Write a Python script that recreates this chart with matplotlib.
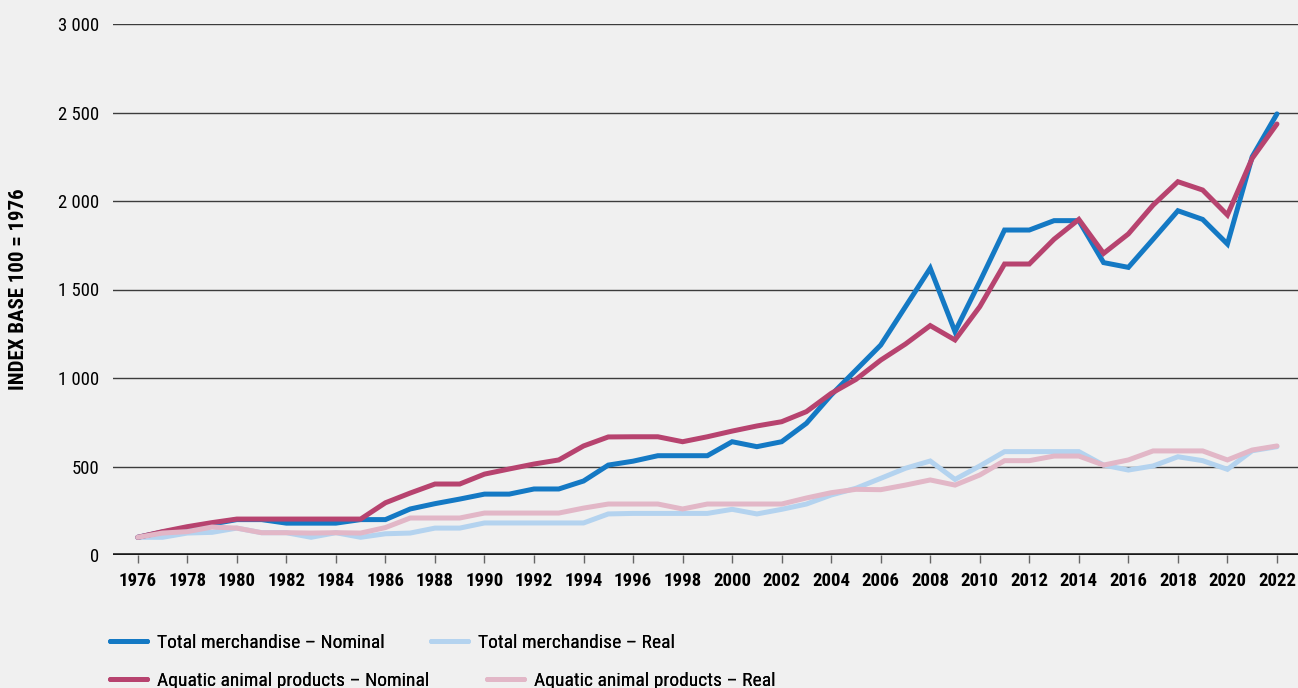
import matplotlib
matplotlib.use("Agg")
import matplotlib.pyplot as plt
from matplotlib.ticker import FuncFormatter, FixedLocator

years = list(range(1976, 2023))

total_nominal = [100, 130, 150, 175, 200, 200, 180, 180, 180, 200,
                 200, 260, 290, 316, 344, 344, 373, 373, 418, 508,
                 530, 561, 561, 561, 640, 612, 640, 744, 904, 1045,
                 1186, 1403, 1620, 1262, 1544, 1836, 1836, 1889, 1889, 1652,
                 1625, 1784, 1945, 1896, 1757, 2250, 2492]

total_real = [100, 100, 124, 128, 152, 126, 126, 100, 126, 100,
              120, 124, 152, 152, 181, 181, 181, 181, 181, 232,
              235, 235, 235, 235, 258, 232, 258, 288, 339, 377,
              433, 490, 531, 427, 503, 584, 584, 584, 584, 508,
              480, 503, 555, 533, 484, 589, 612]

aquatic_nominal = [100, 132, 160, 183, 203, 203, 203, 203, 203, 203,
                   295, 350, 401, 401, 457, 486, 514, 537, 616, 667,
                   668, 668, 640, 668, 700, 729, 753, 810, 913, 992,
                   1101, 1192, 1296, 1215, 1403, 1644, 1644, 1784, 1896, 1704,
                   1814, 1977, 2109, 2062, 1921, 2241, 2435]

aquatic_real = [100, 124, 132, 158, 152, 126, 126, 124, 126, 124,
                155, 209, 209, 209, 237, 237, 237, 237, 265, 288,
                288, 288, 260, 288, 288, 288, 288, 322, 352, 371,
                369, 395, 424, 395, 452, 533, 533, 559, 559, 508,
                537, 588, 588, 588, 537, 593, 616]

labels = ["Total merchandise \u2013 Nominal", "Total merchandise \u2013 Real",
          "Aquatic animal products \u2013 Nominal", "Aquatic animal products \u2013 Real"]
colors = ["#1479c4", "#b4d3ef", "#b7436f", "#e2b7c7"]

plt.rcParams["font.family"] = ["Roboto Condensed", "DejaVu Sans"]
plt.rcParams["font.stretch"] = "condensed"

bg = "#f0f0f0"
fig = plt.figure(figsize=(12.98, 6.88), dpi=100, facecolor=bg)
ax = fig.add_axes([113/1298, 1 - 555/688, 1 - 113/1298, (555 - 24)/688], facecolor=bg)

lw = 3.6
l_tr, = ax.plot(years, total_real, color=colors[1], lw=lw, solid_capstyle="round", solid_joinstyle="miter", zorder=3)
l_tn, = ax.plot(years, total_nominal, color=colors[0], lw=lw, solid_capstyle="round", solid_joinstyle="miter", zorder=4)
l_an, = ax.plot(years, aquatic_nominal, color=colors[2], lw=lw, solid_capstyle="round", solid_joinstyle="miter", zorder=5)
l_ar, = ax.plot(years, aquatic_real, color=colors[3], lw=lw, solid_capstyle="round", solid_joinstyle="miter", zorder=6)

ax.set_xlim(1975, 2022.85)
ax.set_ylim(0, 3000)

for v in range(500, 3001, 500):
    ax.axhline(v, color="#3c3c3c", lw=1.0, zorder=1)
ax.axhline(0, color="#1a1a1a", lw=2.6, zorder=2)

for s in ax.spines.values():
    s.set_visible(False)

ax.xaxis.set_major_locator(FixedLocator(list(range(1976, 2023, 2))))
ax.set_yticks(list(range(0, 3001, 500)))
ax.yaxis.set_major_formatter(FuncFormatter(lambda v, p: f"{int(v):,}".replace(",", " ")))
ax.tick_params(axis="x", length=6, width=1.0, color="#666666", pad=6, labelsize=13.5)
ax.tick_params(axis="y", length=0, pad=10, labelsize=13.5)
for t in ax.get_xticklabels():
    t.set_fontweight("bold")

fig.text(19/1298, 1 - 289/688, "INDEX BASE 100 = 1976", rotation=90, ha="center", va="center",
         fontsize=15, fontweight="bold")

handles = [l_tn, l_tr, l_an, l_ar]
leg_pos = [(110, 643), (431, 643), (110, 681), (487, 681)]
for h, lab, (px, py) in zip(handles, labels, leg_pos):
    leg = fig.legend([h], [lab], loc="center left", bbox_to_anchor=(px/1298, 1 - py/688),
                     frameon=False, fontsize=14, handlelength=1.9, handletextpad=0.5,
                     borderaxespad=0, borderpad=0)
    fig.add_artist(leg)

fig.savefig("out.png", dpi=100, facecolor=bg)
